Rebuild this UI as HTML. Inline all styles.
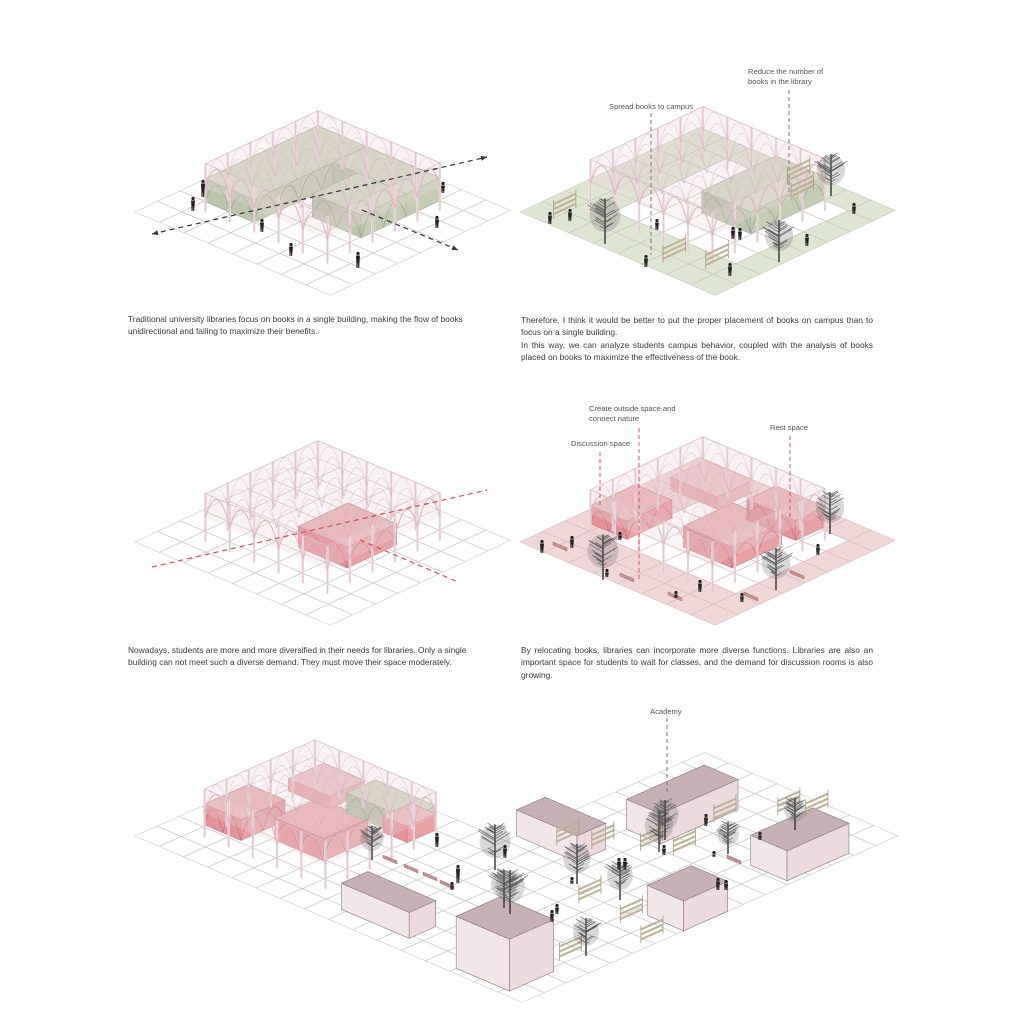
<!DOCTYPE html>
<html><head><meta charset="utf-8">
<style>
html,body{margin:0;padding:0;background:#fff;}
#wrap{position:relative;width:1024px;height:1024px;overflow:hidden;font-family:"Liberation Sans",sans-serif;}
svg{position:absolute;left:0;top:0;}
.t{position:absolute;font-size:8.4px;color:#3a3a3a;line-height:12.3px;white-space:nowrap;}
.j{text-align:justify;text-align-last:justify;white-space:normal;}
.lb{position:absolute;font-size:7.6px;color:#555;line-height:10px;white-space:nowrap;}
</style></head><body>
<div id="wrap">
<svg id="s" width="1024" height="1024" viewBox="0 0 1024 1024" xmlns="http://www.w3.org/2000/svg"></svg>

<div class="t" style="left:128px;top:313px;">Traditional university libraries focus on books in a single building, making the flow of books<br>unidirectional and failing to maximize their benefits.</div>

<div class="t" style="left:521px;top:314px;width:352px;">
<div class="j">Therefore, I think it would be better to put the proper placement of books on campus than to</div>
<div>focus on a single building.</div>
<div class="j">In this way, we can analyze students campus behavior, coupled with the analysis of books</div>
<div>placed on books to maximize the effectiveness of the book.</div>
</div>

<div class="t" style="left:128px;top:644px;">Nowadays, students are more and more diversified in their needs for libraries. Only a single<br>building can not meet such a diverse demand. They must move their space moderately.</div>

<div class="t" style="left:521px;top:644px;width:352px;">
<div class="j">By relocating books, libraries can incorporate more diverse functions. Libraries are also an</div>
<div class="j">important space for students to wait for classes, and the demand for discussion rooms is also</div>
<div>growing.</div>
</div>

<div class="lb" style="left:609px;top:102px;">Spread books to campus</div>
<div class="lb" style="left:748px;top:67px;">Reduce the number of<br>books in the library</div>
<div class="lb" style="left:589px;top:404px;">Create outside space and<br>connect nature</div>
<div class="lb" style="left:571px;top:439px;">Discussion space</div>
<div class="lb" style="left:770px;top:423px;">Rest space</div>
<div class="lb" style="left:650px;top:707px;">Academy</div>
</div>

<script>
var S=document.getElementById('s');var out='';
function add(s){out+=s;}
function mk(o,A,B){return function(a,b,z){return [o[0]+a*A[0]+b*B[0],o[1]+a*A[1]+b*B[1]-(z||0)];};}
function pts(arr){return arr.map(function(p){return p[0].toFixed(1)+','+p[1].toFixed(1);}).join(' ');}
function poly(arr,fill,stroke,sw,extra){add('<polygon points="'+pts(arr)+'" fill="'+fill+'" stroke="'+(stroke||'none')+'" stroke-width="'+(sw||0.6)+'" '+(extra||'')+'/>');}
function line(p,q,st,sw,extra){add('<line x1="'+p[0].toFixed(1)+'" y1="'+p[1].toFixed(1)+'" x2="'+q[0].toFixed(1)+'" y2="'+q[1].toFixed(1)+'" stroke="'+st+'" stroke-width="'+(sw||0.6)+'" '+(extra||'')+'/>');}
function cell(P,a,b,fill){poly([P(a,b),P(a+1,b),P(a+1,b+1),P(a,b+1)],fill);}
function grid(P,cells,gc){
 cells.forEach(function(c){poly([P(c[0],c[1]),P(c[0]+1,c[1]),P(c[0]+1,c[1]+1),P(c[0],c[1]+1)],'none',gc||'#c8c8c8',0.6);});
}
function rect(a0,a1,b0,b1){var r=[];for(var a=a0;a<a1;a++)for(var b=b0;b<b1;b++)r.push([a,b]);return r;}
function archFace(P,p0,p1,n,z0,zp,col,sw){
 var zc=2*zp-z0;
 for(var i=0;i<n;i++){
  var t0=i/n,t1=(i+1)/n,tm=(t0+t1)/2;
  var A0=[p0[0]+(p1[0]-p0[0])*t0,p0[1]+(p1[1]-p0[1])*t0];
  var A1=[p0[0]+(p1[0]-p0[0])*t1,p0[1]+(p1[1]-p0[1])*t1];
  var Am=[p0[0]+(p1[0]-p0[0])*tm,p0[1]+(p1[1]-p0[1])*tm];
  var s=P(A0[0],A0[1],z0),e=P(A1[0],A1[1],z0),c=P(Am[0],Am[1],zc);
  add('<path d="M'+s[0].toFixed(1)+','+s[1].toFixed(1)+' Q'+c[0].toFixed(1)+','+c[1].toFixed(1)+' '+e[0].toFixed(1)+','+e[1].toFixed(1)+'" fill="none" stroke="'+col+'" stroke-width="'+(sw||0.8)+'"/>');
 }
}
function box(P,a0,a1,b0,b1,z0,z1,top,fl,fr,st,arch){
 poly([P(a0,b0,z0),P(a1,b0,z0),P(a1,b0,z1),P(a0,b0,z1)],fl,st,0.6);
 poly([P(a1,b0,z0),P(a1,b1,z0),P(a1,b1,z1),P(a1,b0,z1)],fr,st,0.6);
 poly([P(a0,b0,z1),P(a1,b0,z1),P(a1,b1,z1),P(a0,b1,z1)],top,st,0.6);
 if(arch){
  var n1=Math.max(1,Math.round(a1-a0)),n2=Math.max(1,Math.round(b1-b0));
  archFace(P,[a0,b0],[a1,b0],n1,z0,z1-2,arch,0.7);
  archFace(P,[a1,b0],[a1,b1],n2,z0,z1-2,arch,0.7);
 }
}
function canopy(P,a0,a1,b0,b1,H){
 var col='#dcb8c2';
 for(var pass=0;pass<2;pass++)
 for(var a=a0;a<=a1+0.01;a++)for(var b=b0;b<=b1+0.01;b++){
  var edge=(Math.abs(a-a0)<0.01||Math.abs(a-a1)<0.01||Math.abs(b-b0)<0.01||Math.abs(b-b1)<0.01);
  if(edge) line(P(a,b,0),P(a,b,H),pass?'#d9b3be':'#eed9df',pass?0.5:2.4);
 }
 poly([P(a0,b0,H),P(a1,b0,H),P(a1,b1,H),P(a0,b1,H)],'rgba(226,200,208,0.22)','#dcbac4',0.8);
 poly([P(a0,b0,H-24),P(a1,b0,H-24),P(a1,b0,H),P(a0,b0,H)],'rgba(236,214,220,0.3)','none');
 poly([P(a1,b0,H-24),P(a1,b1,H-24),P(a1,b1,H),P(a1,b0,H)],'rgba(236,214,220,0.3)','none');
 for(var b=b0;b<=b1+0.01;b++) archFace(P,[a0,b],[a1,b],Math.round(a1-a0),H-24,H-1,'rgba(214,175,187,0.5)',0.7);
 for(var a=a0;a<=a1+0.01;a++) archFace(P,[a,b0],[a,b1],Math.round(b1-b0),H-24,H-1,'rgba(214,175,187,0.5)',0.7);
 archFace(P,[a0,b0],[a1,b0],Math.round(a1-a0),H-24,H-1,col,1.1);
 archFace(P,[a1,b0],[a1,b1],Math.round(b1-b0),H-24,H-1,col,1.1);
}
function person(x,y,h){h=h||14;
 add('<circle cx="'+x+'" cy="'+(y-h+1.5)+'" r="1.6" fill="#222"/>');
 add('<path d="M'+(x-2)+','+(y-h+3.5)+' L'+(x+2)+','+(y-h+3.5)+' L'+(x+1.6)+','+(y-h*0.45)+' L'+(x+1.2)+','+y+' L'+(x+0.2)+','+y+' L'+x+','+(y-h*0.4)+' L'+(x-0.5)+','+y+' L'+(x-1.5)+','+y+' L'+(x-1.7)+','+(y-h*0.45)+' Z" fill="#222"/>');
}
var seed=7;function rnd(){seed=(seed*9301+49297)%233280;return seed/233280;}
function tree(x,y,h){h=h||38;
 var r=h*0.34;
 add('<line x1="'+x+'" y1="'+y+'" x2="'+x+'" y2="'+(y-h*0.95)+'" stroke="#333" stroke-width="1.4"/>');
 add('<ellipse cx="'+x+'" cy="'+(y-h*0.6)+'" rx="'+(r*0.95)+'" ry="'+(h*0.35)+'" fill="rgba(100,100,100,0.25)"/>');
 for(var i=0;i<28;i++){var yy=y-h*(0.3+0.6*rnd());var dir=rnd()<0.5?-1:1;var len=r*(0.5+0.7*rnd())*(1-Math.abs(yy-(y-h*0.6))/(h*0.5));
  add('<line x1="'+x+'" y1="'+yy.toFixed(1)+'" x2="'+(x+dir*len).toFixed(1)+'" y2="'+(yy-len*0.6).toFixed(1)+'" stroke="#555" stroke-width="0.6"/>');}
}
function shelf(P,a,b,n){n=n||3;
 for(var i=0;i<n;i++){var p=P(a,b,4+i*5),q=P(a,b+1,4+i*5);line(p,q,'#bdb094',2);}
 line(P(a,b,0),P(a,b,18),'#a89a7c',0.8);line(P(a,b+1,0),P(a,b+1,18),'#a89a7c',0.8);
}
function bench(x,y){add('<path d="M'+x+','+y+' l14,6 l0,3 l-14,-6 z" fill="#c99090" stroke="#9a6a6a" stroke-width="0.5"/>');}
function dashArrow(p,q,col){
 add('<line x1="'+p[0]+'" y1="'+p[1]+'" x2="'+q[0]+'" y2="'+q[1]+'" stroke="'+col+'" stroke-width="1.2" stroke-dasharray="5,4"/>');
}
function arrowHead(p,q,col){var dx=q[0]-p[0],dy=q[1]-p[1],L=Math.hypot(dx,dy);dx/=L;dy/=L;
 add('<polygon points="'+q[0]+','+q[1]+' '+(q[0]-dx*6-dy*2.5)+','+(q[1]-dy*6+dx*2.5)+' '+(q[0]-dx*6+dy*2.5)+','+(q[1]-dy*6-dx*2.5)+'" fill="'+col+'"/>');}

var A=[24.4,10.4],B=[22.5,-10.6];
var G=['#d3d9c6','#bcc6ad','#c4cdb4','#a4ae94','#97a388'];
var R=['#eab6b8','#e29399','#e7a2a6','#cc8088','#c87076'];
// ===== Diagram 1 =====
var P1=mk([135,212],A,B);
grid(P1,rect(0,8,0,8));
box(P1,1.5,3.5,1.5,6.5,10,33,G[0],G[1],G[2],G[3],G[4]);
box(P1,3.5,6.5,5,6.5,10,33,G[0],G[1],G[2],G[3]);
box(P1,4.5,6.5,3,5,10,33,G[0],G[1],G[2],G[3],G[4]);
canopy(P1,1.5,6.5,1.5,6.5,48);
dashArrow([152,234],[487,157],'#333');arrowHead([152,234],[487,157],'#333');arrowHead([487,157],[152,234],'#333');
dashArrow([362,210],[458,250],'#333');arrowHead([362,210],[458,250],'#333');
person(203,197,17);person(193,211,14);person(262,232,13);person(291,256,13);person(358,268,16);person(443,193,11);person(437,228,12);

// ===== Diagram 2 =====
var P2=mk([520,212],A,B);
var ring=[];rect(0,8,0,8).forEach(function(c){if(!(c[0]>=2&&c[0]<7&&c[1]>=2&&c[1]<7))ring.push(c);});
ring.forEach(function(c){cell(P2,c[0],c[1],'#dfe5d3');});
grid(P2,rect(0,8,0,8),'#c6c9bf');
box(P2,4.5,6.5,3.2,6.5,12,34,G[0],G[1],G[2],G[3],G[4]);
canopy(P2,1.5,6.5,1.5,6.5,52);
line([651,113],[651,255],'#777',1,'stroke-dasharray="4,3"');
line([789,90],[789,195],'#777',1,'stroke-dasharray="4,3"');
shelf(P2,1,0.4);shelf(P2,5.4,0.5);shelf(P2,6.6,1.1);shelf(P2,5.3,6.3);shelf(P2,4.5,7);
tree(605,244,48);tree(779,262,44);tree(831,196,44);
person(550,224,12);person(570,221,12);person(657,230,11);person(646,267,12);person(733,239,12);person(740,240,12);person(730,276,13);person(807,246,12);person(854,214,11);

// ===== Diagram 3 =====
var P3=mk([135,542],A,B);
grid(P3,rect(0,8,0,8));
box(P3,4.3,6.3,2.6,4.8,12,33,R[0],R[1],R[2],R[3],R[4]);
canopy(P3,1.5,6.5,1.5,6.5,48);
dashArrow([152,567],[487,490],'#e04848');
dashArrow([360,540],[458,582],'#e04848');

// ===== Diagram 4 =====
var P4=mk([520,542],A,B);
ring.forEach(function(c){cell(P4,c[0],c[1],'#f1d6d8');});
grid(P4,rect(0,8,0,8),'#d8bcbf');
box(P4,1.5,3,1.5,3.5,18,36,R[0],R[1],R[2],R[3],R[4]);
box(P4,2.3,4.2,4.2,5.8,32,44,'#efc6c8','#e8aeb1','#ebb8ba','#d89aa0');
box(P4,4.3,6.3,2.6,4.8,12,33,R[0],R[1],R[2],R[3],R[4]);
box(P4,4.5,6.5,5.2,6.5,14,34,R[0],R[1],R[2],R[3],R[4]);
canopy(P4,1.5,6.5,1.5,6.5,52);
line([600,452],[600,505],'#e05050',1,'stroke-dasharray="4,3"');
line([639,428],[639,580],'#e05050',1,'stroke-dasharray="4,3"');
line([790,436],[790,520],'#e05050',1,'stroke-dasharray="4,3"');
tree(603,580,48);tree(776,590,44);tree(830,534,44);
bench(553,542);bench(620,573);bench(668,592);bench(744,592);bench(790,570);
person(542,553,13);person(572,548,12);person(620,540,8);person(607,577,8);person(700,592,12);person(742,602,9);person(818,555,11);person(676,598,7);

// ===== Bottom diagram =====
var A2=[24.2,10.4],B2=[22.1,-9.8];
var P5=mk([135,836],A2,B2);
var cellsB=rect(0,16,0,8).concat(rect(8,16,8,17));
grid(P5,cellsB);
box(P5,1.5,3,1.5,3.5,12,33,R[0],R[1],R[2],R[3],R[4]);
box(P5,3.5,5.5,2.5,4.5,8,30,R[0],R[1],R[2],R[3],R[4]);
box(P5,2.5,4.2,4.2,5.8,30,42,'#efc6c8','#e8aeb1','#ebb8ba','#d89aa0');
box(P5,4,6.5,5.2,6.5,14,34,G[0],G[1],G[2],G[3],G[4]);
box(P5,5.5,6.5,5.2,6.5,10,26,R[0],R[1],R[2],R[3]);
canopy(P5,1.5,6.5,1.5,6.5,48);
var bc=['#c7b0b6','#f3e6e9','#ecdadf','#8a7a7e'];
box(P5,7.8,10.6,0.8,2,0,26,bc[0],bc[1],bc[2],bc[3]);
box(P5,13,15.2,0.3,2.3,0,52,bc[0],bc[1],bc[2],bc[3]);
box(P5,8,10.5,8.5,9.8,0,26,bc[0],bc[1],bc[2],bc[3]);
box(P5,10,11.4,11.3,14.8,0,30,bc[0],bc[1],bc[2],bc[3]);
box(P5,14.3,15.8,12.2,15,0,30,bc[0],bc[1],bc[2],bc[3]);
box(P5,14.5,16,7.3,9.3,0,30,bc[0],bc[1],bc[2],bc[3]);
line([667,718],[667,795],'#777',1,'stroke-dasharray="4,3"');
shelf(P5,9.3,8.9);shelf(P5,10.2,9.5);shelf(P5,11.3,10.5);shelf(P5,12.2,11);shelf(P5,11.5,13.6);shelf(P5,12.5,15.4);shelf(P5,13.2,15.9);shelf(P5,14.3,6.3);shelf(P5,15.7,5.7);shelf(P5,12.5,6.4);shelf(P5,14.8,3);
tree(372,860,36);tree(495,870,48);tree(504,908,40);tree(510,914,46);tree(577,884,42);tree(620,900,40);tree(659,852,44);tree(665,840,42);tree(728,854,34);tree(795,830,34);tree(586,956,40);
bench(383,855);bench(404,864);bench(423,872);bench(440,880);bench(727,855);
person(437,847,14);person(458,883,18);person(505,858,13);person(552,922,12);person(557,914,10);person(619,870,12);person(625,870,12);person(706,826,12);person(664,855,10);person(718,890,12);person(726,890,10);person(760,840,8);person(714,857,6);person(572,884,7);person(452,890,8);
S.innerHTML=out;
</script>
</body></html>
